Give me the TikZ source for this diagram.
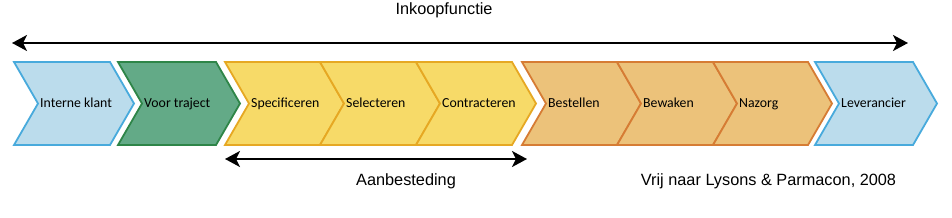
\documentclass[tikz,border=0pt]{standalone}
\usepackage{fontspec}
\setmainfont{Liberation Sans}
\newfontfamily\chevfont{Carlito}
\usetikzlibrary{arrows.meta}
\definecolor{bluefill}{RGB}{187,220,236}
\definecolor{blueline}{RGB}{72,170,220}
\definecolor{greenfill}{RGB}{99,170,135}
\definecolor{greenline}{RGB}{46,133,72}
\definecolor{yellowfill}{RGB}{247,218,104}
\definecolor{yellowline}{RGB}{230,168,35}
\definecolor{orangefill}{RGB}{236,194,122}
\definecolor{orangeline}{RGB}{214,124,52}
\tikzset{
  chevlabel/.style={anchor=base west, inner sep=0pt, font=\chevfont\fontsize{13.8pt}{16pt}\selectfont},
  bigtext/.style={anchor=base, inner sep=0pt, font=\fontsize{16.3pt}{19pt}\selectfont},
  spanarrow/.style={line width=2.2pt, {Stealth[length=15pt,width=16pt,inset=4pt]}-{Stealth[length=15pt,width=16pt,inset=4pt]}},
  bluechev/.style={fill=bluefill, draw=blueline, line width=1.8pt, line join=miter},
  greenchev/.style={fill=greenfill, draw=greenline, line width=1.8pt, line join=miter},
  yellowchev/.style={fill=yellowfill, draw=yellowline, line width=1.8pt, line join=miter},
  orangechev/.style={fill=orangefill, draw=orangeline, line width=1.8pt, line join=miter},
}
% #1 style, #2 left x, #3 width, #4 name, #5 label
\newcommand{\chevron}[5]{%
  \draw[#1] (#2,62) -- ++(#3,0) -- ++(24,41.5) -- ++(-24,41.5) -- ++(-#3,0) -- ++(24,-41.5) -- cycle;
  \node[chevlabel] (#4) at (#2+26,107) {#5};
}
\begin{document}
\begin{tikzpicture}[x=1pt,y=-1pt]
\useasboundingbox (0,0) rectangle (952,217);
\chevron{bluechev}{14}{96}{interne}{Interne klant}
\chevron{greenchev}{118}{98}{voor}{Voor traject}
\chevron{yellowchev}{225}{95}{spec}{Specificeren}
\chevron{yellowchev}{320}{96}{sel}{Selecteren}
\chevron{yellowchev}{416}{96}{contr}{Contracteren}
\chevron{orangechev}{522}{95}{best}{Bestellen}
\chevron{orangechev}{617}{96}{bew}{Bewaken}
\chevron{orangechev}{713}{95}{naz}{Nazorg}
\chevron{bluechev}{815}{98}{lev}{Leverancier}
\coordinate (topL) at (12,43);
\coordinate (topR) at (908,43);
\coordinate (botL) at (225,159);
\coordinate (botR) at (527,159);
\draw[spanarrow] (topL) -- (topR);
\draw[spanarrow] (botL) -- (botR);
\node[bigtext] (inkoop) at (444,14.7) {Inkoopfunctie};
\node[bigtext] (aanb) at (406,185) {Aanbesteding};
\node[bigtext] (bron) at (768.5,185) {Vrij naar Lysons \& Parmacon, 2008};
\end{tikzpicture}
\end{document}
